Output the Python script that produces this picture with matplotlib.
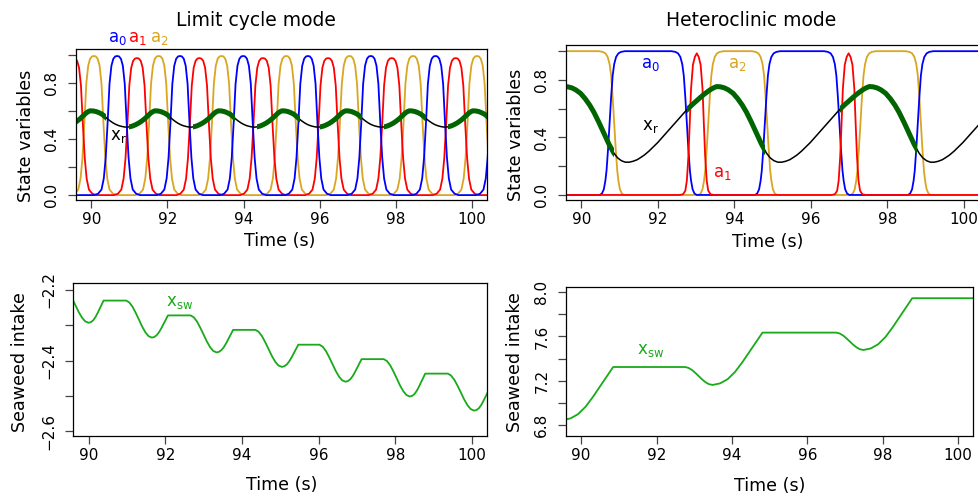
import numpy as np
import matplotlib
matplotlib.use('Agg')
import matplotlib.pyplot as plt
from matplotlib.patches import Rectangle

plt.rcParams['font.family'] = ['DejaVu Sans']

W, H = 979, 499
XLIM = (89.6, 100.4)

# ---------------- limit cycle mode: values ----------------
lc_a0_peaks = [90.68, 92.33, 93.99, 95.69, 97.34, 99.04, 100.71]
lc_a1_peaks = [89.53, 91.20, 92.84, 94.51, 96.22, 97.89, 99.57]
lc_a2_peaks = [90.07, 91.77, 93.42, 95.12, 96.78, 98.45, 100.13]
lc_a0_height, lc_a1_height, lc_a2_height = 0.995, 0.98, 0.995

# shape of one a-pulse (offset from the peak in s, fraction of the peak height)
pulse_off = [-0.60, -0.50, -0.41, -0.35, -0.30, -0.25, -0.20, -0.15, -0.10, -0.05, 0.0,
             0.05, 0.10, 0.15, 0.20, 0.25, 0.30, 0.35, 0.41, 0.50, 0.60]
pulse_val = [0.0, 0.01, 0.04, 0.12, 0.27, 0.52, 0.80, 0.93, 0.98, 0.997, 1.0,
             0.997, 0.98, 0.93, 0.80, 0.52, 0.27, 0.12, 0.04, 0.01, 0.0]

# x_r: times of its maxima, and one cycle (fraction of the cycle, value)
lc_xr_peaks = [88.30, 89.97, 91.67, 93.34, 95.01, 96.68, 98.35, 100.02, 101.69]
lc_xr_u = [0.0, 0.045, 0.09, 0.135, 0.18, 0.225, 0.27, 0.315, 0.36, 0.405, 0.45, 0.50, 0.54,
           0.57, 0.60, 0.63, 0.66, 0.705, 0.75, 0.795, 0.84, 0.875, 0.91, 0.94, 0.97]
lc_xr_val = [0.603, 0.602, 0.598, 0.590, 0.580, 0.564, 0.545, 0.529, 0.515, 0.504, 0.496, 0.490, 0.487,
             0.486, 0.488, 0.491, 0.495, 0.504, 0.515, 0.529, 0.545, 0.560, 0.575, 0.588, 0.597]

# seaweed intake: flat stretches and minima
lc_sw_plat_start = [88.72, 90.39, 92.07, 93.77, 95.47, 97.12, 98.78, 100.46]
lc_sw_plat_end = [89.31, 90.98, 92.66, 94.35, 96.02, 97.70, 99.37, 101.0]
lc_sw_plat_level = [-2.189, -2.230, -2.272, -2.313, -2.355, -2.396, -2.437, -2.479]
lc_sw_trough_t = [90.00, 91.65, 93.34, 95.04, 96.70, 98.38, 100.06]
lc_sw_trough_v = [-2.293, -2.335, -2.377, -2.418, -2.460, -2.502, -2.542]

# ---------------- heteroclinic mode ----------------
hc_a0_rise = [90.74, 94.80, 98.80]
hc_a0_fall = [92.76, 96.75]
hc_a2_rise = [93.32, 97.30]
hc_a2_fall = [90.86, 94.86, 98.88]
hc_a1_peaks = [93.02, 96.99]
hc_a1_height = 0.985

# shape of a 0 -> 1 switch (offset from the half-way time, value)
switch_off = [-0.26, -0.20, -0.15, -0.11, -0.08, -0.04, 0.0, 0.04, 0.08, 0.12, 0.17, 0.23, 0.30, 0.40]
switch_val = [0.0, 0.01, 0.04, 0.10, 0.17, 0.32, 0.5, 0.68, 0.83, 0.91, 0.96, 0.985, 0.995, 1.0]

# shape of the short a1 pulse
hc_pulse_off = [-0.45, -0.36, -0.30, -0.26, -0.22, -0.185, -0.15, -0.10, -0.05, 0.0,
                0.05, 0.10, 0.15, 0.185, 0.22, 0.26, 0.30, 0.36, 0.45]
hc_pulse_val = [0.0, 0.005, 0.03, 0.10, 0.27, 0.5, 0.75, 0.92, 0.975, 1.0,
                0.975, 0.92, 0.75, 0.5, 0.27, 0.10, 0.03, 0.005, 0.0]

hc_xr_peaks = [85.56, 89.55, 93.54, 97.53, 101.52]
hc_xr_off = [0.0, 0.1, 0.2, 0.3, 0.43, 0.55, 0.67, 0.78, 0.91, 1.04, 1.17, 1.3, 1.4, 1.5, 1.6,
             1.7, 1.8, 1.91, 2.0, 2.1, 2.22, 2.34, 2.45, 2.55, 2.66, 2.77, 2.87, 2.97, 3.07,
             3.16, 3.26, 3.35, 3.45, 3.55, 3.65, 3.75, 3.83, 3.91]
hc_xr_val = [0.754, 0.752, 0.745, 0.732, 0.707, 0.670, 0.625, 0.575, 0.505, 0.430, 0.355, 0.292,
             0.258, 0.238, 0.228, 0.228, 0.234, 0.245, 0.260, 0.278, 0.305, 0.336, 0.365, 0.395,
             0.428, 0.460, 0.490, 0.520, 0.550, 0.578, 0.605, 0.628, 0.652, 0.675, 0.698, 0.718,
             0.733, 0.745]
hc_cycle = 3.99

hc_sw_plat_start = [90.85, 94.81, 98.78]
hc_sw_plat_end = [92.76, 96.77, 101.0]
hc_sw_plat_level = [7.324, 7.635, 7.946]
hc_sw_trough_t = [89.52, 93.49, 97.49]
hc_sw_trough_v = [6.845, 7.162, 7.478]

# how the intake moves between a flat stretch and a minimum (time fraction, height fraction)
desc_u = [0, 0.12, 0.25, 0.37, 0.5, 0.62, 0.75, 0.87, 1.0]
desc_f = [0, 0.05, 0.17, 0.33, 0.52, 0.70, 0.86, 0.96, 1.0]
rise_u = [0, 0.15, 0.3, 0.45, 0.6, 0.75, 0.9, 1.0]
rise_f = [0, 0.03, 0.11, 0.25, 0.44, 0.65, 0.86, 1.0]

BLUE, RED, GOLD = '#0000FF', '#FF0000', '#DAA520'
DKGREEN, SWGREEN = '#006400', '#19AA19'


def pulse_curve(peaks, height, off, val):
    ts, vs = [89.0], [0.0]
    for p in peaks:
        ts += [p + o for o in off]
        vs += [height * v for v in val]
    return ts + [101.5], vs + [0.0]


def switch_curve(level0, rises, falls):
    ev = sorted([(t, 1) for t in rises] + [(t, 0) for t in falls])
    ts, vs = [89.0], [level0]
    for t, up in ev:
        if up:
            ts += [t + o for o in switch_off]
            vs += switch_val
        else:
            ts += [t - o for o in switch_off[::-1]]
            vs += switch_val[::-1]
    return ts + [101.5], vs + [vs[-1]]


def cycle_curve(peaks, u, val):
    ts, vs = [], []
    for p0, p1 in zip(peaks[:-1], peaks[1:]):
        ts += [p0 + (p1 - p0) * x for x in u]
        vs += val
    return ts + [peaks[-1]], vs + [val[0]]


def seaweed_curve(ps, pe, pl, tt, tv):
    events = [(s, 'p', e, l) for s, e, l in zip(ps, pe, pl)]
    events += [(t, 't', t, v) for t, v in zip(tt, tv)]
    events.sort()
    ts, vs = [], []
    prev = None
    for ev in events:
        if prev is not None:
            u, f = (desc_u, desc_f) if prev[1] == 'p' else (rise_u, rise_f)
            t0, v0, t1, v1 = prev[2], prev[3], ev[0], ev[3]
            ts += [t0 + (t1 - t0) * x for x in u[1:-1]]
            vs += [v0 + (v1 - v0) * x for x in f[1:-1]]
        if ev[1] == 'p':
            ts += [ev[0], ev[2]]
            vs += [ev[3], ev[3]]
        else:
            ts.append(ev[0])
            vs.append(ev[3])
        prev = ev
    return ts, vs


def green_overlay(ax, t, v, gaps, ylim):
    for a, b in gaps:
        a, b = max(a, XLIM[0]), min(b, XLIM[1])
        if b <= a:
            continue
        ln, = ax.plot(t, v, color=DKGREEN, lw=3.6, solid_capstyle='butt')
        ln.set_clip_path(Rectangle((a, ylim[0]), b - a, ylim[1] - ylim[0], transform=ax.transData))


def style(ax, ylim, yticks, ylabels):
    ax.set_xlim(*XLIM)
    ax.set_ylim(*ylim)
    ax.set_xticks([90, 92, 94, 96, 98, 100])
    ax.set_yticks(yticks)
    ax.set_yticklabels(ylabels)
    ax.tick_params(axis='both', direction='out', length=6, width=0.9, color='#444444',
                   labelsize=11)
    ax.tick_params(axis='x', pad=3)
    ax.tick_params(axis='y', pad=6, labelrotation=90)
    for lab in ax.get_yticklabels():
        lab.set_va('center')
    for sp in ax.spines.values():
        sp.set_linewidth(0.9)


def px_axes(l, t, r, b):
    return [l / W, 1 - b / H, (r - l) / W, (b - t) / H]


fig = plt.figure(figsize=(W / 100, H / 100), dpi=100)
ax1 = fig.add_axes(px_axes(76, 49.3, 487.3, 200))
ax2 = fig.add_axes(px_axes(566, 45, 979, 200))
ax3 = fig.add_axes(px_axes(73.3, 283.3, 487.3, 435.7))
ax4 = fig.add_axes(px_axes(566, 286.7, 973.3, 435.7))

top_ticks = [0.0, 0.2, 0.4, 0.6, 0.8, 1.0]
top_labels = ['0.0', '', '0.4', '', '0.8', '']

# --- top left ---
ylim1 = (-0.035, 1.043)
for peaks, h, c in [(lc_a2_peaks, lc_a2_height, GOLD), (lc_a1_peaks, lc_a1_height, RED),
                    (lc_a0_peaks, lc_a0_height, BLUE)]:
    t, v = pulse_curve(peaks, h, pulse_off, pulse_val)
    ax1.plot(t, v, color=c, lw=1.3)
t, v = cycle_curve(lc_xr_peaks, lc_xr_u, lc_xr_val)
ax1.plot(t, v, color='black', lw=1.1)
green_overlay(ax1, t, v, list(zip(lc_sw_plat_end[:-1], lc_sw_plat_start[1:])), ylim1)
style(ax1, ylim1, top_ticks, top_labels)
ax1.text(90.69, 1.123, r'$\mathregular{a_0}$', color=BLUE, fontsize=12, ha='center', va='center', clip_on=False)
ax1.text(91.22, 1.123, r'$\mathregular{a_1}$', color=RED, fontsize=12, ha='center', va='center', clip_on=False)
ax1.text(91.79, 1.123, r'$\mathregular{a_2}$', color=GOLD, fontsize=12, ha='center', va='center', clip_on=False)
ax1.text(90.71, 0.42, r'$\mathregular{x_r}$', color='black', fontsize=12, ha='center', va='center')

# --- top right ---
ylim2 = (-0.035, 1.043)
t, v = switch_curve(1.0, hc_a2_rise, hc_a2_fall)
ax2.plot(t, v, color=GOLD, lw=1.3)
t, v = switch_curve(0.0, hc_a0_rise, hc_a0_fall)
ax2.plot(t, v, color=BLUE, lw=1.3)
t, v = pulse_curve(hc_a1_peaks, hc_a1_height, hc_pulse_off, hc_pulse_val)
ax2.plot(t, v, color=RED, lw=1.3)
t, v = cycle_curve(hc_xr_peaks, [o / hc_cycle for o in hc_xr_off], hc_xr_val)
ax2.plot(t, v, color='black', lw=1.1)
green_overlay(ax2, t, v, list(zip([88.0] + hc_sw_plat_end[:-1], hc_sw_plat_start)), ylim2)
style(ax2, ylim2, top_ticks, top_labels)
ax2.text(91.80, 0.911, r'$\mathregular{a_0}$', color=BLUE, fontsize=12, ha='center', va='center')
ax2.text(94.07, 0.911, r'$\mathregular{a_2}$', color=GOLD, fontsize=12, ha='center', va='center')
ax2.text(91.80, 0.48, r'$\mathregular{x_r}$', color='black', fontsize=12, ha='center', va='center')
ax2.text(93.68, 0.153, r'$\mathregular{a_1}$', color=RED, fontsize=12, ha='center', va='center')

# --- bottom left ---
t, v = seaweed_curve(lc_sw_plat_start, lc_sw_plat_end, lc_sw_plat_level, lc_sw_trough_t, lc_sw_trough_v)
ax3.plot(t, v, color=SWGREEN, lw=1.3)
style(ax3, (-2.613, -2.181), [-2.6, -2.5, -2.4, -2.3, -2.2],
      ['\u22122.6', '', '\u22122.4', '', '\u22122.2'])
ax3.text(92.38, -2.234, r'$\mathregular{x_{sw}}$', color=SWGREEN, fontsize=12, ha='center', va='center')

# --- bottom right ---
t, v = seaweed_curve(hc_sw_plat_start, hc_sw_plat_end, hc_sw_plat_level, hc_sw_trough_t, hc_sw_trough_v)
ax4.plot(t, v, color=SWGREEN, lw=1.3)
style(ax4, (6.703, 8.05), [6.8, 7.0, 7.2, 7.4, 7.6, 7.8, 8.0],
      ['6.8', '', '7.2', '', '7.6', '', '8.0'])
ax4.text(91.83, 7.478, r'$\mathregular{x_{sw}}$', color=SWGREEN, fontsize=12, ha='center', va='center')


def ftext(px, py, s, **kw):
    fig.text(px / W, 1 - py / H, s, ha='center', va='center', **kw)


ftext(256, 21, 'Limit cycle mode', fontsize=13.5)
ftext(751, 21, 'Heteroclinic mode', fontsize=13.5)
ftext(280, 241, 'Time (s)', fontsize=12.6)
ftext(768, 242, 'Time (s)', fontsize=12.6)
ftext(282, 485, 'Time (s)', fontsize=12.6)
ftext(770, 486, 'Time (s)', fontsize=12.6)
ftext(26, 136, 'State variables', fontsize=12.6, rotation=90)
ftext(516, 135, 'State variables', fontsize=12.6, rotation=90)
ftext(20, 362, 'Seaweed intake', fontsize=12.6, rotation=90)
ftext(515, 362, 'Seaweed intake', fontsize=12.6, rotation=90)

fig.savefig('out.png', dpi=100)
